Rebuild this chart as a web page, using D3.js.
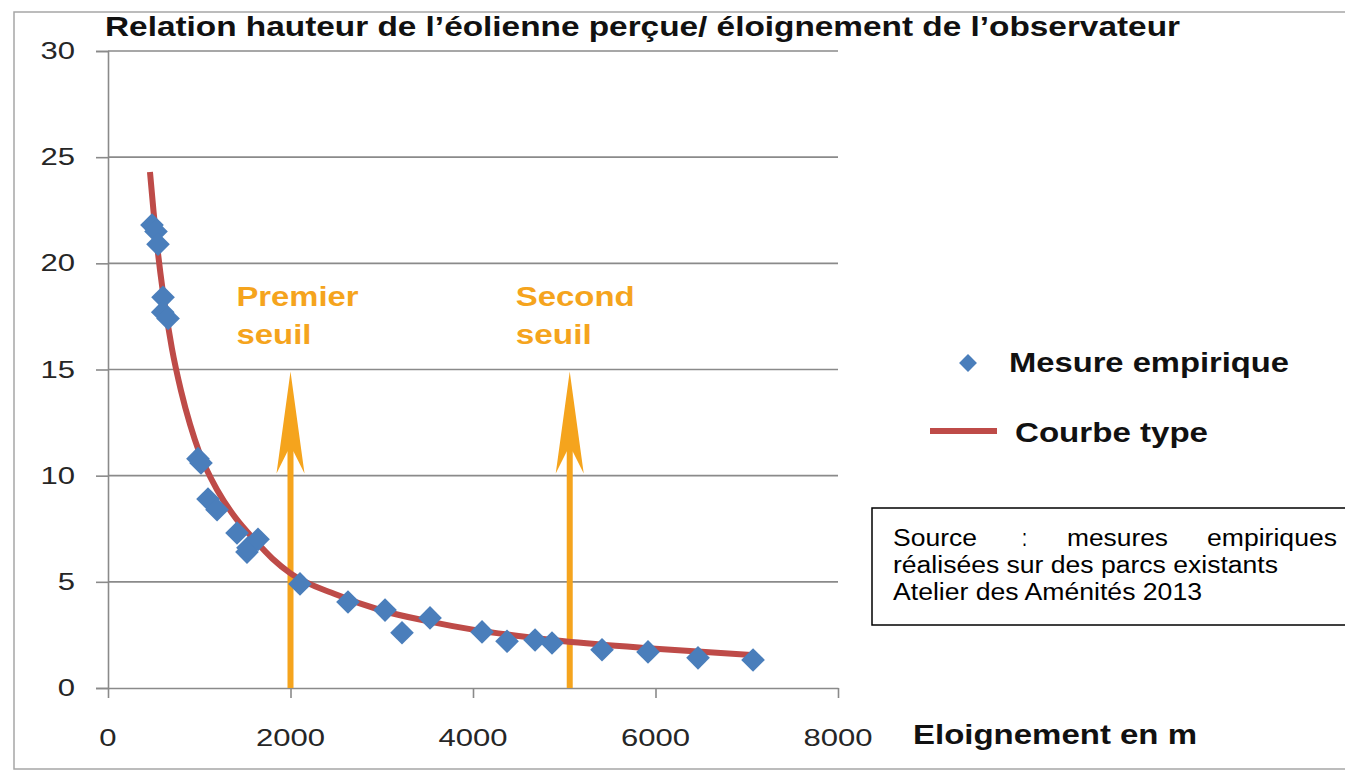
<!DOCTYPE html>
<html>
<head>
<meta charset="utf-8">
<script src="https://cdn.jsdelivr.net/npm/d3@7/dist/d3.min.js"></script>
<style>
  html, body { margin: 0; padding: 0; background: #fff; }
  svg { display: block; font-family: "Liberation Sans", Arial, sans-serif; }
</style>
</head>
<body>
<svg id="chart" width="1345" height="778"></svg>
<script>
// measured points (distance in m, perceived height)
var distM = [482, 526, 548, 603, 600, 658, 986, 1019, 1096, 1195, 1414, 1523, 1534, 1644,
             2104, 2630, 3036, 3222, 3529, 4099, 4373, 4680, 4866, 5414, 5918, 6466, 7069]
var heights = [21.8, 21.5, 20.9, 18.4, 17.7, 17.4, 10.8, 10.6, 8.9, 8.4, 7.3, 6.4, 6.6, 7.0,
               4.9, 4.05, 3.67, 2.6, 3.3, 2.64, 2.2, 2.26, 2.12, 1.8, 1.7, 1.42, 1.32]

// "courbe type"
var curveX = [460, 500, 550, 600, 700, 800, 900, 1000, 1200, 1400, 1600, 1800, 2000,
              2500, 3000, 3500, 4000, 4500, 5000, 6000, 7050]
var curveY = [24.3, 22.4, 20.4, 18.7, 16.0, 14.0, 12.4, 11.1, 9.3, 8.0, 7.0, 6.1, 5.4,
              4.4, 3.65, 3.15, 2.75, 2.45, 2.2, 1.85, 1.55]

var xTicks = [0, 2000, 4000, 6000, 8000]
var yTicks = [0, 5, 10, 15, 20, 25, 30]

var thresholds = [2000, 5060]
var thresholdLabels = [['Premier', 'seuil'], ['Second', 'seuil']]
var arrowTop = 14.9

var title = 'Relation hauteur de l\u2019éolienne perçue/ éloignement de l\u2019observateur'
var xTitle = 'Eloignement en m'
var legendLabels = ['Mesure empirique', 'Courbe type']
var sourceLines = ['réalisées sur des parcs existants', 'Atelier des Aménités 2013']
var sourceWords = ['Source', ':', 'mesures', 'empiriques']

var blue = '#4a7ebb', red = '#be4b48', orange = '#f5a41d', grid = '#8a8a8a'
var sx = 1.35   // the picture is stretched horizontally

var svg = d3.select('#chart')

var x = d3.scaleLinear().domain([0, 8000]).range([108, 838])
var y = d3.scaleLinear().domain([0, 30]).range([688, 51])

// stretched text helper
function stext(g, tx, ty, str, size, weight, anchor, fill) {
    return g.append('g')
        .attr('transform', 'translate(' + tx + ',' + ty + ') scale(' + sx + ',1)')
        .append('text')
        .attr('text-anchor', anchor)
        .style('font-size', size + 'px')
        .style('font-weight', weight)
        .attr('fill', fill)
        .text(str)
}

// text fitted to a measured width
function ftext(g, tx, ty, str, size, weight, w) {
    return g.append('text')
        .attr('x', tx).attr('y', ty)
        .attr('textLength', w).attr('lengthAdjust', 'spacingAndGlyphs')
        .style('font-size', size + 'px').style('font-weight', weight)
        .attr('fill', weight == 'bold' ? '#111' : '#000')
        .text(str)
}

// outer frame
svg.append('rect')
    .attr('x', 14).attr('y', 12)
    .attr('width', 1400).attr('height', 757)
    .attr('fill', 'none')
    .attr('stroke', '#a6a6a6')
    .attr('stroke-width', 1.5)

// gridlines
svg.append('g').selectAll('line')
    .data(yTicks.filter(function(d) { return d > 0 }))
    .enter().append('line')
    .attr('x1', x(0)).attr('x2', x(8000))
    .attr('y1', function(d) { return y(d) })
    .attr('y2', function(d) { return y(d) })
    .attr('stroke', grid).attr('stroke-width', 1.6)

// axes
var yAxis = d3.axisLeft(y).tickValues(yTicks).tickSize(12).tickFormat('')
svg.append('g').attr('transform', 'translate(' + x(0) + ',0)').call(yAxis)
    .call(function(g) {
        g.selectAll('path, line').attr('stroke', grid).attr('stroke-width', 1.6)
    })

var xAxis = d3.axisBottom(x).tickValues(xTicks).tickSize(10).tickSizeOuter(0).tickFormat('')
svg.append('g').attr('transform', 'translate(0,' + y(0) + ')').call(xAxis)
    .call(function(g) {
        g.selectAll('path, line').attr('stroke', grid).attr('stroke-width', 1.6)
    })

// tick labels
var labels = svg.append('g')
yTicks.forEach(function(t) {
    stext(labels, 75, y(t) + 8, t, 23, 'normal', 'end', '#262626')
})
xTicks.forEach(function(t) {
    stext(labels, x(t), 746, t, 23, 'normal', 'middle', '#262626')
})

// title
ftext(svg, 105, 36, title, 28, 'bold', 1075)

// threshold arrows
var arrows = svg.append('g')
thresholds.forEach(function(t, i) {
    var ax = x(t), top = y(arrowTop)
    arrows.append('rect')
        .attr('x', ax - 3).attr('y', top + 60)
        .attr('width', 6).attr('height', y(0) - top - 60)
        .attr('fill', orange)
    arrows.append('path')
        .attr('d', 'M' + ax + ',' + top +
                   ' L' + (ax + 14) + ',' + (top + 102) +
                   ' L' + (ax + 3) + ',' + (top + 80) +
                   ' L' + (ax - 3) + ',' + (top + 80) +
                   ' L' + (ax - 14) + ',' + (top + 102) + ' Z')
        .attr('fill', orange)
    ftext(arrows, ax - 54, top - 66, thresholdLabels[i][0], 27, 'bold', i == 0 ? 122 : 119)
        .attr('fill', orange)
    ftext(arrows, ax - 54, top - 28, thresholdLabels[i][1], 27, 'bold', i == 0 ? 75 : 76)
        .attr('fill', orange)
})

// fitted curve
var line = d3.line()
    .x(function(d) { return x(d[0]) })
    .y(function(d) { return y(d[1]) })
    .curve(d3.curveMonotoneX)

svg.append('path')
    .datum(d3.zip(curveX, curveY))
    .attr('d', line)
    .attr('fill', 'none')
    .attr('stroke', red)
    .attr('stroke-width', 6)

// measured points
var diamond = d3.symbol().type(d3.symbolSquare).size(280)
svg.append('g').selectAll('path')
    .data(d3.zip(distM, heights))
    .enter().append('path')
    .attr('d', diamond)
    .attr('transform', function(d) {
        return 'translate(' + x(d[0]) + ',' + y(d[1]) + ') rotate(45)'
    })
    .attr('fill', blue)

// legend
var leg = svg.append('g')
leg.append('path')
    .attr('d', d3.symbol().type(d3.symbolSquare).size(160))
    .attr('transform', 'translate(968,363) rotate(45)')
    .attr('fill', blue)
leg.append('line')
    .attr('x1', 930).attr('x2', 997)
    .attr('y1', 431).attr('y2', 431)
    .attr('stroke', red).attr('stroke-width', 6)
ftext(leg, 1009, 372, legendLabels[0], 27, 'bold', 280)
ftext(leg, 1015, 442, legendLabels[1], 27, 'bold', 193)

// x axis title
ftext(svg, 913, 744, xTitle, 27, 'bold', 284)

// source box
var src = svg.append('g')
src.append('rect')
    .attr('x', 872).attr('y', 508)
    .attr('width', 500).attr('height', 117)
    .attr('fill', '#fff')
    .attr('stroke', '#000').attr('stroke-width', 1.5)

var wordX = [893, 1022, 1067, 1207]
var wordW = [84, 5, 101, 130]
sourceWords.forEach(function(w, i) {
    ftext(src, wordX[i], 546, w, 23, 'normal', wordW[i])
})
ftext(src, 893, 573, sourceLines[0], 23, 'normal', 385)
ftext(src, 893, 600, sourceLines[1], 23, 'normal', 309)
</script>
</body>
</html>
